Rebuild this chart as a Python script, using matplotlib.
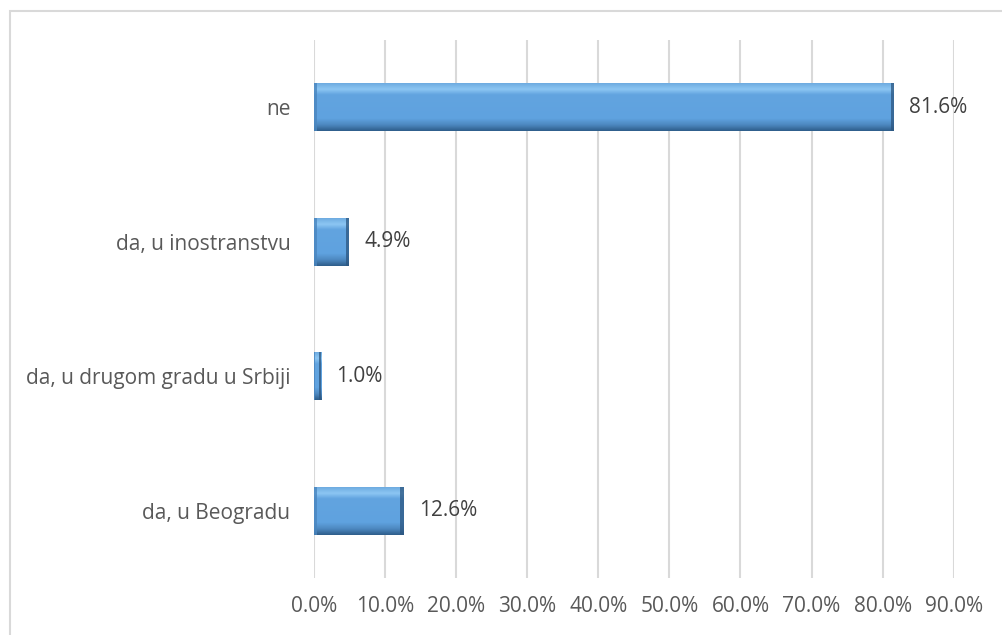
import numpy as np
import matplotlib
matplotlib.use("Agg")
import matplotlib.pyplot as plt
from matplotlib.patches import Rectangle
from matplotlib.colors import LinearSegmentedColormap

# data
categories = ["da, u Beogradu", "da, u drugom gradu u Srbiji", "da, u inostranstvu", "ne"]
values = [12.6, 1.0, 4.9, 81.6]
x_ticks = [0, 10, 20, 30, 40, 50, 60, 70, 80, 90]

plt.rcParams['font.family'] = ['Open Sans', 'DejaVu Sans']

fig = plt.figure(figsize=(10.02, 6.35), dpi=100)
ax = fig.add_axes([0.3134, 0.0898, 0.9518 - 0.3134, 0.937 - 0.0898])

# chart border (light gray frame, runs off the right/bottom edge)
fig.patches.append(Rectangle((10 / 1002, -0.2), 1.2, 1 - 11 / 635 + 0.2,
                             transform=fig.transFigure, fill=False,
                             edgecolor="#d9d9d9", linewidth=1.5, zorder=0))

bar_h = 0.36
y = np.arange(len(categories))

# beveled bar look: vertical gradient dark bottom -> mid -> light top
bevel = LinearSegmentedColormap.from_list(
    "bevel", [(0.0, "#2f5f8c"), (0.12, "#4d88c0"), (0.25, "#5fa2df"),
              (0.75, "#62a4e0"), (0.86, "#8cc6f3"), (1.0, "#6aa8de")])
grad = np.linspace(0, 1, 64).reshape(-1, 1)

bars = ax.barh(y, values, height=bar_h, color="#5fa2df", edgecolor="none", zorder=2)
for b in bars:
    x0, y0, w, h = b.get_x(), b.get_y(), b.get_width(), b.get_height()
    im = ax.imshow(grad, cmap=bevel, aspect="auto", origin="lower",
                   extent=(x0, x0 + w, y0, y0 + h), zorder=3, interpolation="bilinear")
    im.set_clip_path(b)
    # darker right end and lighter left end
    ax.add_patch(Rectangle((x0 + w - min(0.45, w * 0.3), y0), min(0.45, w * 0.3), h,
                           facecolor="#2c5680", edgecolor="none", alpha=0.75, zorder=4))
    ax.add_patch(Rectangle((x0, y0), min(0.35, w * 0.2), h,
                           facecolor="#4a86bf", edgecolor="none", alpha=0.8, zorder=4))
    ax.annotate(f"{w:.1f}%", xy=(x0 + w, y0 + h / 2), xytext=(11, 0),
                textcoords="offset points", va="center", ha="left",
                fontsize=15, color="#404040")

ax.set_xlim(0, 90)
ax.set_ylim(-0.5, len(categories) - 0.5)
ax.set_xticks(x_ticks)
ax.set_xticklabels([f"{t:.1f}%" for t in x_ticks])
ax.set_yticks(y)
ax.set_yticklabels(categories)

ax.grid(axis="x", color="#d9d9d9", linewidth=1.5, zorder=0)
ax.set_axisbelow(True)
for s in ax.spines.values():
    s.set_visible(False)
ax.tick_params(axis="x", length=0, pad=13, labelsize=15, labelcolor="#595959")
ax.tick_params(axis="y", length=0, pad=17, labelsize=15, labelcolor="#595959")

fig.savefig("out.png", dpi=100)
